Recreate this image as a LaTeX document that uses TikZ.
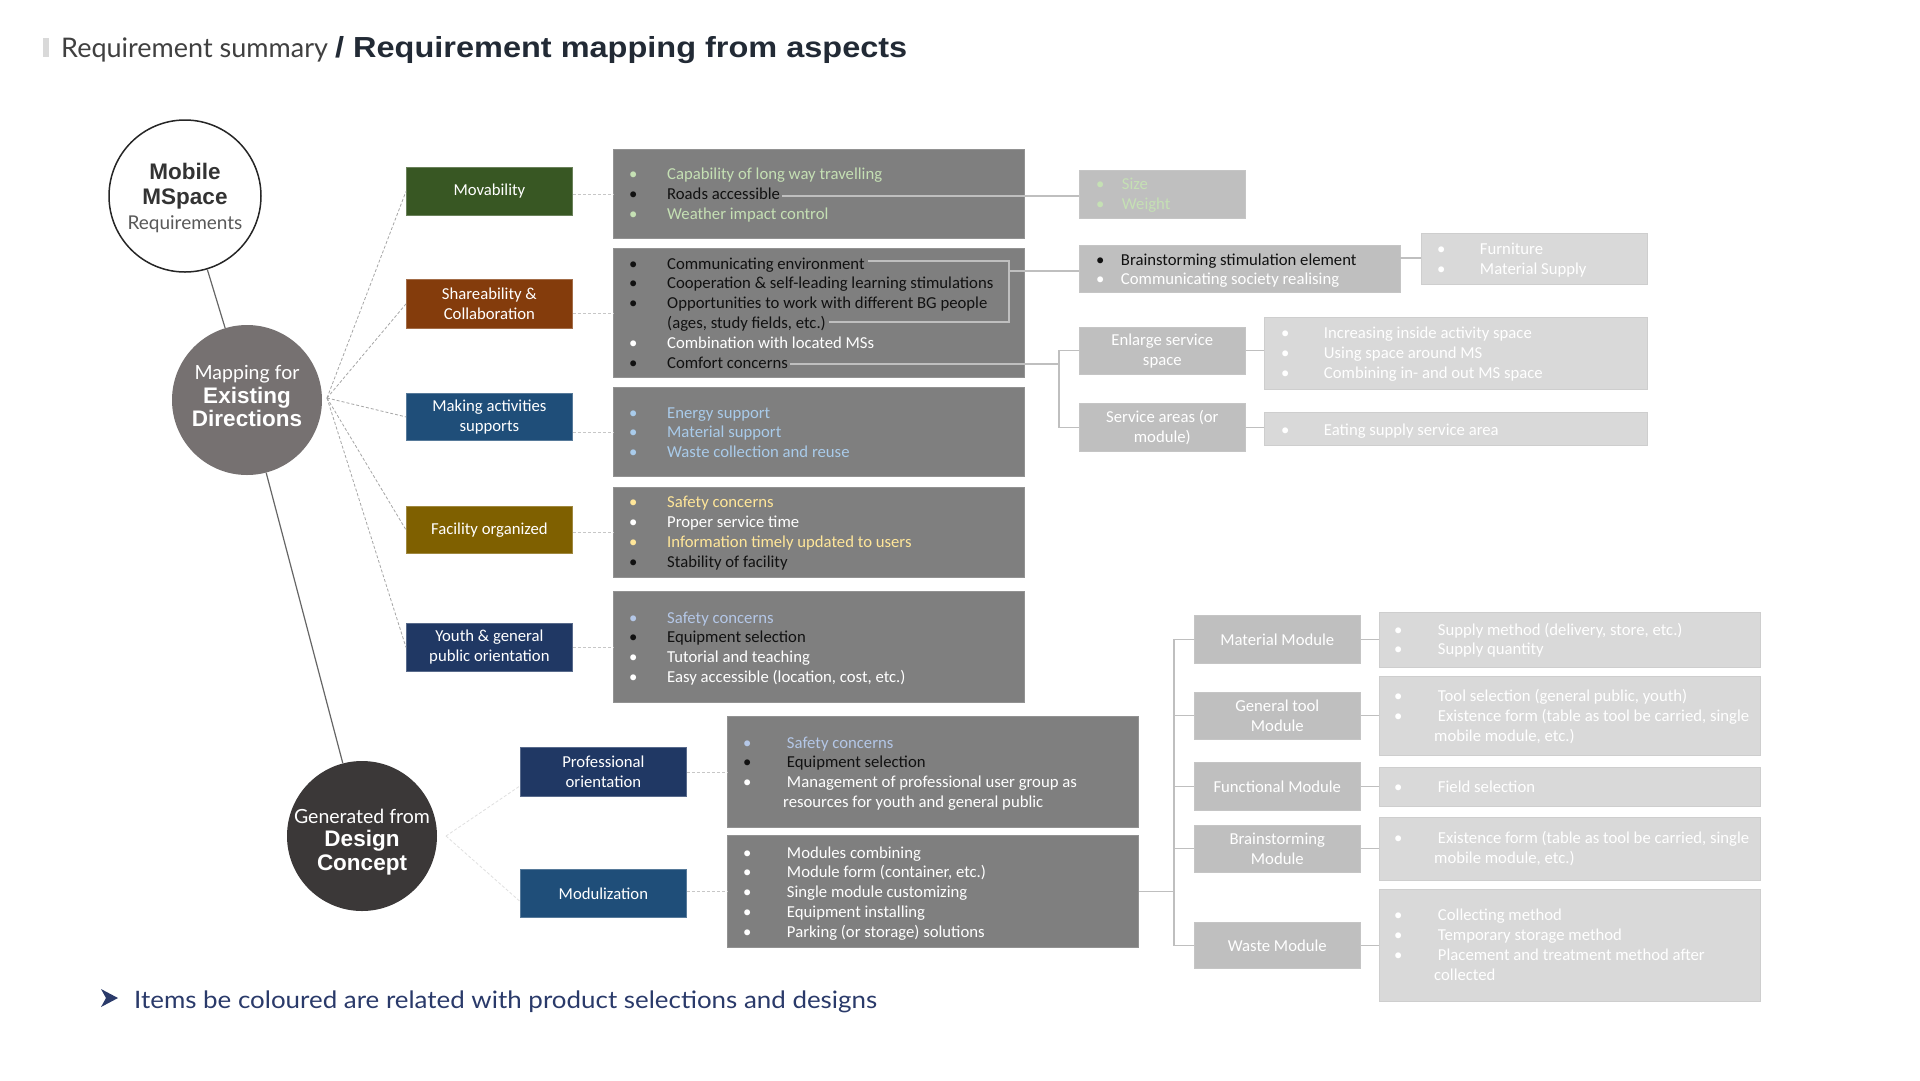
\documentclass[tikz,border=0pt]{standalone}
\usepackage{fontspec}
\setmainfont{Carlito}
\newfontfamily\latof{Lato}
\newfontfamily\arialf{Liberation Sans}
\usetikzlibrary{calc}
\definecolor{boxgray}{HTML}{7F7F7F}
\definecolor{lvone}{HTML}{BFBFBF}
\definecolor{lvtwo}{HTML}{D9D9D9}
\definecolor{tgreen}{HTML}{C5E0B4}
\definecolor{tblue}{HTML}{A9CBEA}
\definecolor{tblueb}{HTML}{B4C7E7}
\definecolor{tyellow}{HTML}{FFE699}
\definecolor{tblack}{HTML}{111111}
\definecolor{cgreen}{HTML}{385723}
\definecolor{cbrown}{HTML}{843C0C}
\definecolor{cblue}{HTML}{1F4E79}
\definecolor{cgold}{HTML}{7F6000}
\definecolor{cnavy}{HTML}{203864}
\definecolor{ctwo}{HTML}{767171}
\definecolor{cthree}{HTML}{3B3838}
\definecolor{footnavy}{HTML}{2A3A6A}
\newcommand\bul[1][38]{\makebox[#1pt][l]{\textbullet}}
\newcommand\boxfont{\fontsize{16.7}{20}\selectfont}
\tikzset{
  gbox/.style={anchor=north west, inner sep=0pt, fill=boxgray, draw=boxgray!85!white, line width=0.8pt},
  lonebox/.style={anchor=north west, inner sep=0pt, fill=lvone, draw=lvone!90!white, line width=0.6pt, text=white, align=center, font=\boxfont},
  ltwobox/.style={anchor=north west, inner sep=0pt, fill=lvtwo, draw=lvtwo!95!black, line width=0.6pt},
  catbox/.style={anchor=north west, inner sep=0pt, text=white, align=center, line width=0.8pt, font=\boxfont, minimum width=166pt},
  bl/.style={anchor=base west, inner sep=0pt, font=\boxfont},
  circtext/.style={inner sep=0pt, align=center},
  hubline/.style={draw=black!35, dash pattern=on 3pt off 2pt, line width=0.8pt},
  faintdash/.style={draw=black!12, dash pattern=on 3pt off 2pt, line width=0.8pt},
  catdash/.style={draw=black!22, dash pattern=on 3pt off 2pt, line width=0.8pt},
  cline/.style={draw=lvone, line width=1.1pt},
  circline/.style={draw=black!60, line width=1.2pt}
}
\begin{document}
\begin{tikzpicture}[x=1pt,y=-1pt]
\useasboundingbox (0,0) rectangle (1920,1080);
\fill[white] (0,0) rectangle (1920,1080);

% title
\fill[lvtwo] (43,38) rectangle (49,57);
\node[anchor=base west, inner sep=0pt, text=black!75] (titlea) at (61,57)
  {\latof\fontsize{27}{30}\selectfont Requirement summary};
\node[anchor=base west, inner sep=0pt, text={rgb,255:red,34;green,42;blue,53}] (titleb) at (335,57)
  {\scalebox{1.12}[1]{\arialf\bfseries\fontsize{29}{30}\selectfont / Requirement mapping from aspects}};

% circles
\node[circle, draw=black!85, line width=1.5pt, fill=white, minimum size=152pt, inner sep=0pt] (c1) at (185,196) {};
\node[circtext, font=\fontsize{22.5}{25}\selectfont] (c1t) at ($(c1)+(0,2)$)
  {{\arialf\bfseries\color[HTML]{333333}Mobile}\\{\arialf\bfseries\color[HTML]{333333}MSpace}\\{\latof\fontsize{19}{25}\selectfont\color[HTML]{595959}Requirements}};
\node[circle, fill=ctwo, minimum size=150pt, inner sep=0pt] (c2) at (247,400) {};
\node[circtext, text=white, font=\fontsize{22.5}{23.5}\selectfont] (c2t) at ($(c2)+(0,-4)$)
  {{\latof\fontsize{19.5}{23.5}\selectfont Mapping for}\\{\arialf\bfseries Existing}\\{\arialf\bfseries Directions}};
\node[circle, fill=cthree, minimum size=150pt, inner sep=0pt] (c3) at (362,836) {};
\node[circtext, text=white, font=\fontsize{22.5}{23.5}\selectfont] (c3t) at ($(c3)+(0,6)$)
  {{\latof\fontsize{19.5}{23.5}\selectfont Generated from}\\{\arialf\bfseries Design}\\{\arialf\bfseries Concept}};
\draw[circline] (c1) -- (c2);
\draw[circline] (c2) -- (c3);

% category boxes
\node[catbox, fill=cgreen, draw=cgreen!75!white, minimum height=48pt] (mov) at (406,167) {Movability};
\node[catbox, fill=cbrown, draw=cbrown!75!white, minimum height=49pt] (sha) at (406,279) {Shareability \&\\Collaboration};
\node[catbox, fill=cblue, draw=cblue!75!white, minimum height=47pt] (mak) at (406,393) {Making activities\\supports};
\node[catbox, fill=cgold, draw=cgold!75!white, minimum height=47pt] (fac) at (406,506) {Facility organized};
\node[catbox, fill=cnavy, draw=cnavy!75!white, minimum height=48pt] (you) at (406,623) {Youth \& general\\public orientation};
\node[catbox, fill=cnavy, draw=cnavy!75!white, minimum height=49pt] (pro) at (520,747) {Professional\\orientation};
\node[catbox, fill=cblue, draw=cblue!75!white, minimum height=48pt] (mod) at (520,869) {Modulization};

% hub connectors
\coordinate (hubtwo) at (327,398);
\coordinate (hubthree) at (446,836);
\foreach \n in {mov,sha,mak,fac,you} \draw[hubline] (hubtwo) -- (\n.west);
\draw[faintdash] (hubthree) -- ($(pro.west)+(0,14)$);
\draw[faintdash] (hubthree) -- ($(mod.west)+(0,8)$);

% gray description boxes
\node[gbox, minimum width=411pt, minimum height=89pt] (g1) at (613,149) {};
\node[gbox, minimum width=411pt, minimum height=129pt] (g2) at (613,248) {};
\node[gbox, minimum width=411pt, minimum height=89pt] (g3) at (613,387) {};
\node[gbox, minimum width=411pt, minimum height=90pt] (g4) at (613,487) {};
\node[gbox, minimum width=411pt, minimum height=111pt] (g5) at (613,591) {};
\node[gbox, minimum width=411pt, minimum height=111pt] (g6) at (727,716) {};
\node[gbox, minimum width=411pt, minimum height=112pt] (g7) at (727,835) {};

\draw[catdash] (mov.east |- g1.west) -- (g1.west);
\draw[catdash] (sha.east |- g2.west) -- (g2.west);
\draw[catdash] (mak.east |- g3.west) -- (g3.west);
\draw[catdash] (fac.east |- g4.west) -- (g4.west);
\draw[catdash] (you.east |- g5.west) -- (g5.west);
\draw[catdash] (pro.east |- g6.west) -- (g6.west);
\draw[catdash] (mod.east |- g7.west) -- (g7.west);

% box texts
\node[bl, text=tgreen] (aa) at (629,179) {\bul Capability of long way travelling};
\node[bl, text=tblack] (ab) at (629,199) {\bul Roads accessible};
\node[bl, text=tgreen] (ac) at (629,219) {\bul Weather impact control};

\node[bl, text=tblack] (ba) at (629,269) {\bul Communicating environment};
\node[bl, text=tblack] (bb) at (629,288) {\bul Cooperation \& self-leading learning stimulations};
\node[bl, text=tblack] (bc) at (629,308) {\bul Opportunities to work with different BG people};
\node[bl, text=tblack] (bd) at (667,328) {(ages, study fields, etc.)};
\node[bl, text=white] (be) at (629,348) {\bul Combination with located MSs};
\node[bl, text=tblack] (bf) at (629,368) {\bul Comfort concerns};

\node[bl, text=tblue] (ca) at (629,418) {\bul Energy support};
\node[bl, text=tblue] (cb) at (629,437) {\bul Material support};
\node[bl, text=tblue] (cc) at (629,457) {\bul Waste collection and reuse};

\node[bl, text=tyellow] (da) at (629,507) {\bul Safety concerns};
\node[bl, text=white] (db) at (629,527) {\bul Proper service time};
\node[bl, text=tyellow] (dc) at (629,547) {\bul Information timely updated to users};
\node[bl, text=tblack] (dd) at (629,567) {\bul Stability of facility};

\node[bl, text=tblueb] (ea) at (629,623) {\bul Safety concerns};
\node[bl, text=tblack] (eb) at (629,642) {\bul Equipment selection};
\node[bl, text=white] (ec) at (629,662) {\bul Tutorial and teaching};
\node[bl, text=white] (ed) at (629,682) {\bul Easy accessible (location, cost, etc.)};

\node[bl, text=tblueb] (fa) at (743,748) {\bul[40] Safety concerns};
\node[bl, text=tblack] (fb) at (743,767) {\bul[40] Equipment selection};
\node[bl, text=white] (fc) at (743,787) {\bul[40] Management of professional user group as};
\node[bl, text=white] (fd) at (783,807) {resources for youth and general public};

\node[bl, text=white] (ga) at (743,858) {\bul[40] Modules combining};
\node[bl, text=white] (gb) at (743,877) {\bul[40] Module form (container, etc.)};
\node[bl, text=white] (gc) at (743,897) {\bul[40] Single module customizing};
\node[bl, text=white] (gd) at (743,917) {\bul[40] Equipment installing};
\node[bl, text=white] (ge) at (743,937) {\bul[40] Parking (or storage) solutions};

% right upper boxes
\node[lonebox, minimum width=166pt, minimum height=48pt] (size) at (1079,170) {};
\node[bl, text=tgreen] (sza) at (1096,189) {\bul[22] Size};
\node[bl, text=tgreen] (szb) at (1096,209) {\bul[22] Weight};

\node[lonebox, minimum width=321pt, minimum height=47pt] (bs) at (1079,245) {};
\node[bl, text=tblack] (bsa) at (1096,265) {\bul[21] Brainstorming stimulation element};
\node[bl, text=white] (bsb) at (1096,284) {\bul[21] Communicating society realising};

\node[ltwobox, minimum width=226pt, minimum height=51pt] (fur) at (1421,233) {};
\node[bl, text=white] (fua) at (1437,254) {\bul[39] Furniture};
\node[bl, text=white] (fub) at (1437,274) {\bul[39] Material Supply};

\node[lonebox, minimum width=166pt, minimum height=47pt] (enl) at (1079,327) {Enlarge service\\space};
\node[ltwobox, minimum width=383pt, minimum height=72pt] (inc) at (1264,317) {};
\node[bl, text=white] (ina) at (1281,338) {\bul[39] Increasing inside activity space};
\node[bl, text=white] (inb) at (1281,358) {\bul[39] Using space around MS};
\node[bl, text=white] (inc3) at (1281,378) {\bul[39] Combining in- and out MS space};

\node[lonebox, minimum width=166pt, minimum height=48pt] (sa) at (1079,403) {Service areas (or\\module)};
\node[ltwobox, minimum width=383pt, minimum height=33pt] (eat) at (1264,412) {};
\node[bl, text=white] (eaa) at (1281,435) {\bul[39] Eating supply service area};

% module boxes
\node[lonebox, minimum width=166pt, minimum height=48pt] (mm) at (1194,615) {Material Module};
\node[lonebox, minimum width=166pt, minimum height=47pt] (gm) at (1194,692) {General tool\\Module};
\node[lonebox, minimum width=166pt, minimum height=48pt] (fm) at (1194,762) {Functional Module};
\node[lonebox, minimum width=166pt, minimum height=47pt] (bm) at (1194,825) {Brainstorming\\Module};
\node[lonebox, minimum width=166pt, minimum height=46pt] (wm) at (1194,922) {Waste Module};

\node[ltwobox, minimum width=381pt, minimum height=55pt] (da1) at (1379,612) {};
\node[ltwobox, minimum width=381pt, minimum height=79pt] (da2) at (1379,676) {};
\node[ltwobox, minimum width=381pt, minimum height=39pt] (da3) at (1379,767) {};
\node[ltwobox, minimum width=381pt, minimum height=63pt] (da4) at (1379,817) {};
\node[ltwobox, minimum width=381pt, minimum height=112pt] (da5) at (1379,889) {};

\node[bl, text=white] (ma) at (1394,635) {\bul[40] Supply method (delivery, store, etc.)};
\node[bl, text=white] (mb) at (1394,654) {\bul[40] Supply quantity};
\node[bl, text=white] (na) at (1394,701) {\bul[40] Tool selection (general public, youth)};
\node[bl, text=white] (nb) at (1394,721) {\bul[40] Existence form (table as tool be carried, single};
\node[bl, text=white] (nc) at (1434,741) {mobile module, etc.)};
\node[bl, text=white] (oa) at (1394,792) {\bul[40] Field selection};
\node[bl, text=white] (pa) at (1394,843) {\bul[40] Existence form (table as tool be carried, single};
\node[bl, text=white] (pb) at (1434,863) {mobile module, etc.)};
\node[bl, text=white] (qa) at (1394,920) {\bul[40] Collecting method};
\node[bl, text=white] (qb) at (1394,940) {\bul[40] Temporary storage method};
\node[bl, text=white] (qc) at (1394,960) {\bul[40] Placement and treatment method after};
\node[bl, text=white] (qd) at (1434,980) {collected};

% solid connectors upper right
\coordinate (rae) at ($(ab.base east)+(2,-3)$);
\draw[cline] (rae) -- (rae -| size.west);
\coordinate (brtop) at ($(ba.base east)+(3,-8)$);
\coordinate (brbot) at ($(bd.base east)+(3,-6)$);
\coordinate (brx) at (1009,271);
\draw[cline] (brtop) -| (brx) -- (brx |- brbot) -- (brbot);
\draw[cline] (brx) -- (brx -| bs.west);
\coordinate (cce) at ($(bf.base east)+(2,-4)$);
\coordinate (vx) at (1059,364);
\draw[cline] (cce) -- (vx);
\draw[cline] (enl.west) -- (enl.west -| vx) -- (sa.west -| vx) -- (sa.west);
\coordinate (bse) at ($(bsa.base east)+(3,-7)$);
\draw[cline] (bse) -- (bse -| fur.west);
\draw[cline] (enl.east) -- (enl.east -| inc.west);
\draw[cline] (sa.east) -- (sa.east -| eat.west);

% module connectors
\coordinate (mvx) at (1174,894);
\draw[cline] (g7.east) -- (g7.east -| mvx);
\draw[cline] (mm.west) -- (mm.west -| mvx) -- (wm.west -| mvx) -- (wm.west);
\draw[cline] (gm.west -| mvx) -- (gm.west);
\draw[cline] (fm.west -| mvx) -- (fm.west);
\draw[cline] (bm.west -| mvx) -- (bm.west);
\draw[cline] (mm.east) -- (mm.east -| da1.west);
\draw[cline] (gm.east) -- (gm.east -| da2.west);
\draw[cline] (fm.east) -- (fm.east -| da3.west);
\draw[cline] (bm.east) -- (bm.east -| da4.west);
\draw[cline] (wm.east) -- (wm.east -| da5.west);

% footer
\fill[footnavy] (118,998) -- (101,989) -- (106,998) -- (101,1007) -- cycle;
\node[anchor=base west, inner sep=0pt, text=footnavy] (foot) at (134,1008)
  {\scalebox{1.08}[1]{\latof\fontsize{24}{26}\selectfont Items be coloured are related with product selections and designs}};
\end{tikzpicture}
\end{document}
